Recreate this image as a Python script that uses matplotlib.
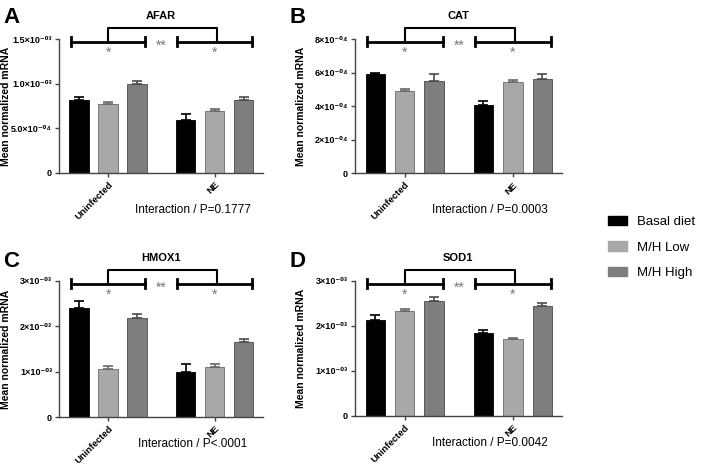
import matplotlib
matplotlib.use("Agg")
import matplotlib.pyplot as plt
from matplotlib.patches import Patch
import numpy as np

plt.rcParams['font.family'] = ['Liberation Sans', 'DejaVu Sans']

# data
groups = ["Uninfected", "NE"]
diets = ["Basal diet", "M/H Low", "M/H High"]
colors = ["#000000", "#a8a8a8", "#7e7e7e"]
err_colors = ["#000000", "#6a6a6a", "#4a4a4a"]

# each row: Uninfected, NE
afar_mean = [[0.817e-3, 0.593e-3], [0.778e-3, 0.690e-3], [0.995e-3, 0.817e-3]]
afar_err = [[0.03e-3, 0.065e-3], [0.012e-3, 0.03e-3], [0.04e-3, 0.03e-3]]
cat_mean = [[5.93e-4, 4.06e-4], [4.93e-4, 5.43e-4], [5.49e-4, 5.64e-4]]
cat_err = [[0.04e-4, 0.26e-4], [0.12e-4, 0.12e-4], [0.42e-4, 0.30e-4]]
hmox_mean = [[2.41e-3, 0.985e-3], [1.065e-3, 1.11e-3], [2.18e-3, 1.65e-3]]
hmox_err = [[0.15e-3, 0.19e-3], [0.07e-3, 0.07e-3], [0.09e-3, 0.06e-3]]
sod_mean = [[2.14e-3, 1.85e-3], [2.33e-3, 1.70e-3], [2.55e-3, 2.44e-3]]
sod_err = [[0.09e-3, 0.05e-3], [0.035e-3, 0.02e-3], [0.10e-3, 0.07e-3]]

afar_ticks = [0, 0.5e-3, 1.0e-3, 1.5e-3]
afar_labels = ["0", "5.0×10⁻⁰⁴", "1.0×10⁻⁰³", "1.5×10⁻⁰³"]
cat_ticks = [0, 2e-4, 4e-4, 6e-4, 8e-4]
cat_labels = ["0", "2×10⁻⁰⁴", "4×10⁻⁰⁴", "6×10⁻⁰⁴", "8×10⁻⁰⁴"]
e3_ticks = [0, 1e-3, 2e-3, 3e-3]
e3_labels = ["0", "1×10⁻⁰³", "2×10⁻⁰³", "3×10⁻⁰³"]

panels = [
    ("A", "AFAR", afar_mean, afar_err, afar_ticks, afar_labels, "Interaction / P=0.1777"),
    ("B", "CAT", cat_mean, cat_err, cat_ticks, cat_labels, "Interaction / P=0.0003"),
    ("C", "HMOX1", hmox_mean, hmox_err, e3_ticks, e3_labels, "Interaction / P<.0001"),
    ("D", "SOD1", sod_mean, sod_err, e3_ticks, e3_labels, "Interaction / P=0.0042"),
]

# axes boxes in figure fractions
boxes = [
    [0.0837, 0.628, 0.289, 0.288],
    [0.5035, 0.627, 0.293, 0.289],
    [0.0837, 0.103, 0.289, 0.293],
    [0.5035, 0.106, 0.293, 0.290],
]
letter_pos = [(0.005, 0.985), (0.41, 0.985), (0.005, 0.46), (0.41, 0.46)]
interact_y = [-0.275, -0.27, -0.195, -0.205]

fig = plt.figure(figsize=(7.05, 4.65), dpi=100)

x = np.arange(len(groups))
off = 0.272
w = 0.18

for i, (letter, title, mean, err, ticks, tlabels, inter) in enumerate(panels):
    ax = fig.add_axes(boxes[i])
    for j in range(3):
        ax.bar(x + (j - 1) * off, mean[j], w, color=colors[j], edgecolor=err_colors[j],
               linewidth=0.6, zorder=2)
        ax.errorbar(x + (j - 1) * off, mean[j], yerr=[np.zeros(2), err[j]], fmt="none",
                    ecolor=err_colors[j], elinewidth=1.2, capsize=3.5, capthick=1.2, zorder=3)
    ax.set_xlim(-0.46, 1.45)
    ax.set_ylim(0, ticks[-1])
    ax.set_yticks(ticks)
    ax.set_yticklabels(tlabels, fontsize=6.5, fontweight="bold")
    ax.set_xticks(x)
    ax.set_xticklabels(groups, rotation=45, ha="right", rotation_mode="anchor",
                       fontsize=6.8, fontweight="bold")
    for s in ["top", "right"]:
        ax.spines[s].set_visible(False)
    for s in ["left", "bottom"]:
        ax.spines[s].set_color("#444444")
        ax.spines[s].set_linewidth(1.0)
    ax.tick_params(axis="both", length=3, width=1, color="#444444", pad=2)
    ax.set_ylabel("Mean normalized mRNA", fontsize=7.5, fontweight="bold")
    ax.yaxis.set_label_coords(-0.235, 0.5)
    ax.text(0.5, 1.17, title, transform=ax.transAxes, ha="center", va="center",
            fontsize=8, fontweight="bold")
    ax.text(0.655, interact_y[i], inter, transform=ax.transAxes, ha="center",
            va="center", fontsize=8.5)
    fig.text(letter_pos[i][0], letter_pos[i][1], letter, fontsize=16,
             fontweight="bold", ha="left", va="top")

    # significance brackets
    tr = ax.get_xaxis_transform()
    lo, hi, cap = 0.98, 1.08, 0.035
    for g in x:
        ax.plot([g - 0.35, g + 0.35], [lo, lo], color="black", lw=2, transform=tr, clip_on=False)
        for e in (g - 0.35, g + 0.35):
            ax.plot([e, e], [lo - cap, lo + cap], color="black", lw=2, transform=tr, clip_on=False)
        ax.text(g, 0.87, "*", transform=tr, ha="center", va="baseline", fontsize=10,
                color="#777777")
    ax.plot([x[0], x[0], x[1] + 0.02, x[1] + 0.02], [lo, hi, hi, lo], color="black", lw=1.5,
            transform=tr, clip_on=False)
    ax.text(x.mean(), lo - 0.06, "**", transform=tr, ha="center", va="baseline", fontsize=10,
            color="#777777")

handles = [Patch(facecolor=c, edgecolor=c) for c in colors]
fig.legend(handles, diets, loc="upper left", bbox_to_anchor=(0.846, 0.562), frameon=False,
           fontsize=9.5, handlelength=1.4, handleheight=0.75, labelspacing=1.0,
           handletextpad=0.8)

fig.savefig("out.png", dpi=100)
